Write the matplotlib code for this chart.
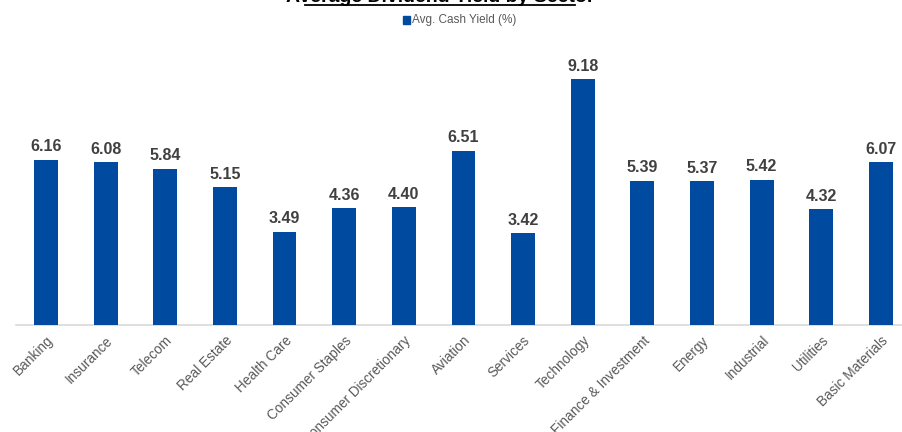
import matplotlib.pyplot as plt
from matplotlib.lines import Line2D
from matplotlib.patches import Rectangle

sectors = ["Banking", "Insurance", "Telecom", "Real Estate", "Health Care",
           "Consumer Staples", "Consumer Discretionary", "Aviation", "Services",
           "Technology", "Finance & Investment", "Energy", "Industrial",
           "Utilities", "Basic Materials"]
yields = [6.16, 6.08, 5.84, 5.15, 3.49, 4.36, 4.40, 6.51, 3.42, 9.18,
          5.39, 5.37, 5.42, 4.32, 6.07]

BAR = "#004a9f"
W, H = 903, 432

plt.rcParams["font.family"] = ["Liberation Sans", "DejaVu Sans"]
fig = plt.figure(figsize=(W / 100, H / 100), dpi=100)
ax = fig.add_axes([16 / W, 107 / H, 1 - 16 / W, 0.62])

x = range(len(sectors))
ax.bar(x, yields, width=0.4, color=BAR, zorder=3)
for xi, v in zip(x, yields):
    ax.annotate(f"{v:.2f}", (xi, v), xytext=(0, 4), textcoords="offset points",
                ha="center", va="bottom", fontsize=11.5, fontweight="bold", color="#404040")

ax.set_xlim(-0.503, 14.37)
ax.set_ylim(0, 10)
ax.set_xticks(list(x))
ax.set_xticklabels(sectors, rotation=45, ha="right", rotation_mode="anchor",
                   fontsize=9.8, color="#595959")
ax.tick_params(axis="x", length=0, pad=6)
ax.set_yticks([])
for s in ["top", "right", "left"]:
    ax.spines[s].set_visible(False)
ax.spines["bottom"].set_color("#d9d9d9")
ax.spines["bottom"].set_linewidth(1.2)

# title (cut off at top, underlined)
fig.text(440 / W, 1 - 1.5 / H, "Average Dividend Yield by Sector", ha="center", va="baseline",
         fontsize=14, fontweight="bold", color="black")
fig.add_artist(Line2D([305 / W, 575 / W], [1 - 4.5 / H, 1 - 4.5 / H], color="black", lw=1.3))

# legend
fig.add_artist(Rectangle((403 / W, 1 - 24 / H), 7.5 / W, 7.5 / H, color=BAR, transform=fig.transFigure))
fig.text(412 / W, 1 - 20 / H, "Avg. Cash Yield (%)", ha="left", va="center",
         fontsize=8.5, color="#595959")

fig.savefig("out.png", dpi=100)
